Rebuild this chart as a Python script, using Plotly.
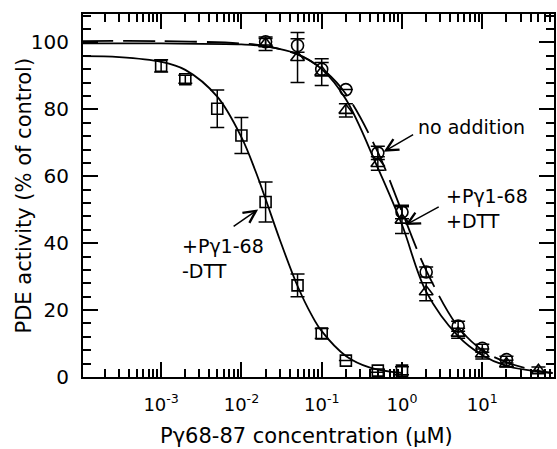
import plotly.graph_objects as go

# measured points (x in uM, y in % of control, +/- error)
sq_x = [1e-4, 1e-3, 2e-3, 5e-3, 1e-2, 2e-2, 5e-2, 0.1, 0.2, 0.5, 1.0]
sq_y = [100, 93, 89, 80.2, 72.2, 52.3, 27.4, 13, 4.9, 1.9, 1.9]
sq_err = [0, 1.8, 1.2, 5.6, 5.4, 6.0, 3.4, 1.5, 0, 0.5, 1.2]

ci_x = [0.02, 0.05, 0.1, 0.2, 0.5, 1, 2, 5, 10, 20]
ci_y = [100.2, 99.1, 92, 85.9, 67, 49.3, 31.4, 15.2, 8.6, 5.2]
ci_err = [1, 2, 2, 0, 2, 2, 1.5, 1.5, 1.2, 1]

tr_x = [0.02, 0.05, 0.1, 0.2, 0.5, 1, 2, 5, 10, 20, 50]
tr_y = [99.6, 95.5, 91.1, 79.7, 63.8, 46.9, 25.5, 13.1, 6.9, 4.0, 2.0]
tr_err = [2, 7.5, 4, 2, 2, 4, 2.7, 1.5, 1.5, 1, 1]

# fitted curves
fit_sq_x = [1e-4, 3e-4, 1e-3, 2e-3, 5e-3, 0.01, 0.015, 0.02, 0.03, 0.05, 0.075, 0.1, 0.2, 0.4, 1.0]
fit_sq_y = [95.9, 95.6, 94.2, 91.8, 83.8, 71.7, 61.5, 53.2, 41.1, 27.2, 18.5, 13.7, 6.3, 2.8, 1.2]

fit_ci_x = [1e-4, 1e-3, 0.01, 0.02, 0.05, 0.1, 0.2, 0.5, 1, 2, 5, 10, 20, 50, 75]
fit_ci_y = [100.4, 100.4, 99.7, 98.9, 96.4, 92.2, 84.6, 67.2, 49.4, 31.9, 15.0, 8.0, 4.4, 1.8, 1.2]

fit_tr_x = [1e-4, 1e-3, 0.01, 0.02, 0.05, 0.1, 0.2, 0.5, 1, 2, 5, 10, 20, 50, 75]
fit_tr_y = [99.7, 99.7, 99.4, 98.8, 96.5, 92, 83, 62.5, 45.5, 25.5, 12.2, 6.5, 3.3, 1.6, 1.2]

x_ticks = [1e-3, 1e-2, 1e-1, 1, 10]
x_labels = ["10<sup>-3</sup>", "10<sup>-2</sup>", "10<sup>-1</sup>", "10<sup>0</sup>", "10<sup>1</sup>"]
y_ticks = [0, 20, 40, 60, 80, 100]

FONT = "DejaVu Sans"

fig = go.Figure()

# curves
fig.add_trace(go.Scatter(x=fit_sq_x, y=fit_sq_y, mode="lines", line_shape="spline",
                         line=dict(color="black", width=1.8)))
fig.add_trace(go.Scatter(x=fit_tr_x, y=fit_tr_y, mode="lines", line_shape="spline",
                         line=dict(color="black", width=1.8)))
fig.add_trace(go.Scatter(x=fit_ci_x, y=fit_ci_y, mode="lines", line_shape="spline",
                         line=dict(color="black", width=1.8, dash="32px,10px")))

def pts(x, y, err, symbol, size):
    return go.Scatter(
        x=x, y=y, mode="markers", cliponaxis=False,
        marker=dict(symbol=symbol, size=size, color="black", line=dict(width=1.6, color="black")),
        error_y=dict(type="data", array=err, color="black", thickness=1.5, width=7),
    )

fig.add_trace(pts(sq_x, sq_y, sq_err, "square-open", 11))
fig.add_trace(pts(ci_x, ci_y, ci_err, "circle-open", 12))
fig.add_trace(pts(tr_x, tr_y, tr_err, "triangle-up-open", 12))

arrow = dict(showarrow=True, text="", arrowhead=5, arrowsize=1.6, arrowwidth=1.5,
             arrowcolor="black", axref="pixel", ayref="pixel", standoff=0)
txt = dict(showarrow=False, font=dict(family=FONT, size=19, color="black"), align="left",
           yanchor="middle")

fig.add_annotation(x=-0.229, y=67.3, ax=31, ay=-18, **arrow)
fig.add_annotation(x=0.863, y=74.7, text="no addition", xanchor="center", **txt)

fig.add_annotation(x=0.040, y=45.4, ax=35, ay=-19, **arrow)
fig.add_annotation(x=0.52, y=50.3, text="+P\u03b31-68<br>+DTT", xanchor="left", **txt)

fig.add_annotation(x=-1.792, y=50.1, ax=-26, ay=18, **arrow)
fig.add_annotation(x=-2.76, y=35.4, text="+P\u03b31-68<br>-DTT", xanchor="left", **txt)

# axis titles
fig.add_annotation(xref="paper", yref="paper", x=0, y=0.5, xshift=-60, textangle=-90,
                   xanchor="center", yanchor="middle",
                   text="PDE activity (% of control)", showarrow=False,
                   font=dict(family=FONT, size=21, color="black"))
fig.add_annotation(xref="paper", yref="paper", x=0.475, y=0, yshift=-59,
                   xanchor="center", yanchor="middle",
                   text="P\u03b368-87 concentration (\u03bcM)", showarrow=False,
                   font=dict(family=FONT, size=21, color="black"))

axis_common = dict(showline=True, linewidth=2, linecolor="black", mirror="allticks",
                   ticks="inside", tickwidth=1.5, tickcolor="black", ticklen=15,
                   showgrid=False, zeroline=False)

fig.update_xaxes(type="log", range=[-3.973, 1.893], tickvals=x_ticks, ticktext=x_labels,
                 tickfont=dict(family=FONT, size=18, color="black"), ticklabelstandoff=10,
                 minor=dict(ticks="inside", ticklen=8, tickwidth=1.5, tickcolor="black", dtick="D1"),
                 **axis_common)
fig.update_yaxes(range=[0, 108.5], tickvals=y_ticks,
                 tickfont=dict(family=FONT, size=20, color="black"), ticklabelstandoff=8,
                 minor=dict(ticks="inside", ticklen=8, tickwidth=1.5, tickcolor="black", dtick=4),
                 **axis_common)

fig.update_layout(width=557, height=449, margin=dict(l=83, r=1, t=14, b=72),
                  plot_bgcolor="white", paper_bgcolor="white", showlegend=False,
                  font=dict(family=FONT, color="black"))

fig.write_html("out.html", config={"displayModeBar": False},
               post_script="document.body.style.margin='0';document.body.style.overflow='hidden';")
